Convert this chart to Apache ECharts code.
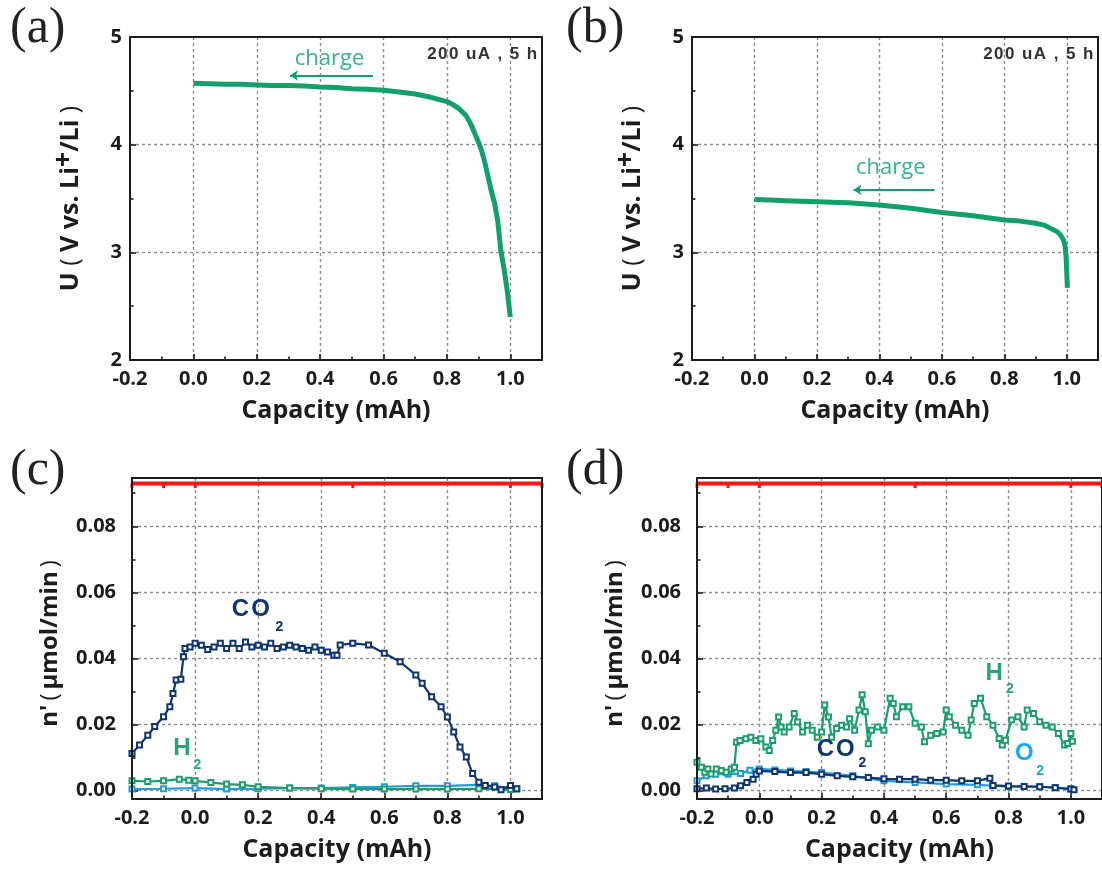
<!DOCTYPE html>
<html><head><meta charset="utf-8">
<script src="https://cdn.jsdelivr.net/npm/echarts@6/dist/echarts.min.js"></script>
<style>html,body{margin:0;padding:0;background:#fff}#c{width:1102px;height:870px}</style>
</head><body><div id="c"></div>
<script>
// ---------------- data ----------------
const capA  = [0,0.05,0.1,0.15,0.2,0.25,0.3,0.35,0.4,0.45,0.5,0.55,0.6,0.65,0.7,0.75,0.8,0.82,0.84,0.86,0.87,0.88,0.89,0.9,0.91,0.92,0.93,0.94,0.95,0.96,0.97,0.98,0.99,1.0];
const voltA = [4.57,4.565,4.56,4.56,4.555,4.55,4.55,4.545,4.535,4.53,4.52,4.515,4.505,4.49,4.47,4.44,4.40,4.37,4.33,4.27,4.22,4.16,4.09,4.02,3.94,3.83,3.70,3.57,3.46,3.30,3.02,2.85,2.65,2.40];

const capB  = [0,0.05,0.1,0.15,0.2,0.3,0.4,0.5,0.6,0.7,0.8,0.85,0.9,0.93,0.95,0.97,0.98,0.99,0.995,0.998,1.0,1.002];
const voltB = [3.49,3.485,3.48,3.475,3.47,3.46,3.44,3.41,3.37,3.34,3.30,3.29,3.27,3.25,3.22,3.19,3.16,3.11,3.05,2.95,2.80,2.67];

const capC_CO2 = [-0.2,-0.176,-0.15,-0.128,-0.1,-0.08,-0.07,-0.06,-0.045,-0.037,-0.032,-0.016,0,0.02,0.04,0.06,0.08,0.1,0.12,0.14,0.16,0.18,0.2,0.22,0.24,0.26,0.28,0.3,0.32,0.34,0.36,0.38,0.4,0.42,0.44,0.45,0.46,0.5,0.55,0.6,0.65,0.7,0.72,0.75,0.78,0.8,0.82,0.84,0.86,0.88,0.9,0.92,0.95,0.97,1.0,1.02];
const rateC_CO2 = [0.0113,0.0138,0.0168,0.0194,0.0224,0.0254,0.0294,0.0335,0.0337,0.0405,0.043,0.0435,0.0446,0.044,0.0427,0.0435,0.0446,0.043,0.0446,0.043,0.045,0.0435,0.044,0.0435,0.0446,0.043,0.0435,0.044,0.0435,0.043,0.0425,0.0435,0.0425,0.042,0.041,0.041,0.0441,0.0446,0.0441,0.0416,0.039,0.035,0.0325,0.0284,0.0254,0.0223,0.0178,0.0132,0.0102,0.0052,0.0026,0.0016,0.0011,0.0003,0.0016,0.0006];
const capC_H2  = [-0.2,-0.15,-0.1,-0.05,-0.02,0,0.05,0.1,0.15,0.2,0.3,0.4,0.5,0.6,0.7,0.8,0.9,1.0,1.02];
const rateC_H2 = [0.003,0.0028,0.003,0.0035,0.0032,0.003,0.0025,0.002,0.0018,0.0012,0.0008,0.0006,0.0005,0.0005,0.0005,0.0005,0.0006,0.0004,0.0005];
const capC_O2  = [-0.2,-0.1,0,0.1,0.2,0.3,0.4,0.5,0.6,0.7,0.8,0.9,0.95,1.0];
const rateC_O2 = [0.0005,0.0006,0.0008,0.0005,0.0006,0.0008,0.0008,0.001,0.0012,0.0015,0.0015,0.0018,0.0015,0.0008];

const capD_H2  = [-0.2,-0.186,-0.175,-0.165,-0.155,-0.138,-0.122,-0.106,-0.09,-0.08,-0.073,-0.062,-0.043,-0.027,-0.011,0.005,0.021,0.032,0.043,0.053,0.062,0.07,0.08,0.096,0.112,0.123,0.139,0.155,0.17,0.186,0.2,0.21,0.222,0.232,0.248,0.264,0.28,0.29,0.306,0.32,0.33,0.34,0.35,0.36,0.38,0.40,0.42,0.43,0.44,0.46,0.48,0.5,0.52,0.53,0.55,0.57,0.59,0.6,0.61,0.63,0.65,0.67,0.68,0.69,0.71,0.73,0.75,0.77,0.78,0.79,0.81,0.83,0.85,0.86,0.88,0.9,0.92,0.94,0.96,0.98,0.99,1.0,1.005];
const rateD_H2 = [0.0086,0.0071,0.0056,0.0066,0.0051,0.0066,0.0061,0.0056,0.0066,0.0071,0.0147,0.0152,0.0157,0.0162,0.0152,0.0157,0.0132,0.0122,0.0152,0.0183,0.0223,0.0193,0.0178,0.0193,0.0234,0.0208,0.0178,0.0198,0.0183,0.0162,0.0178,0.0259,0.0223,0.0162,0.0188,0.0198,0.0193,0.0218,0.0183,0.0244,0.029,0.0239,0.0142,0.0183,0.0193,0.0183,0.028,0.0264,0.0224,0.0254,0.0254,0.0204,0.0193,0.0148,0.0168,0.0173,0.0178,0.0244,0.0224,0.0198,0.0183,0.0168,0.0214,0.0264,0.028,0.0224,0.0198,0.0158,0.0138,0.0153,0.0214,0.0224,0.0193,0.0244,0.0234,0.0209,0.0198,0.0193,0.0173,0.0138,0.0143,0.0173,0.015];
const capD_CO2  = [-0.2,-0.17,-0.14,-0.11,-0.08,-0.06,-0.04,-0.02,-0.01,0,0.05,0.1,0.15,0.2,0.25,0.3,0.35,0.4,0.45,0.5,0.55,0.6,0.65,0.7,0.74,0.75,0.8,0.85,0.9,0.95,1.0,1.01];
const rateD_CO2 = [0.0006,0.0008,0.0005,0.0006,0.0008,0.0015,0.0025,0.0035,0.005,0.006,0.0058,0.0055,0.0055,0.005,0.0045,0.0042,0.004,0.0036,0.0035,0.0035,0.0032,0.0032,0.003,0.003,0.0038,0.0016,0.0014,0.0013,0.0012,0.0009,0.0005,0.0003];
const capD_O2  = [-0.2,-0.17,-0.14,-0.1,-0.06,-0.03,0,0.05,0.1,0.15,0.2,0.3,0.4,0.5,0.6,0.7,0.75,0.8,0.9,0.95,1.0];
const rateD_O2 = [0.003,0.0045,0.005,0.005,0.0052,0.0062,0.0066,0.0063,0.006,0.0058,0.0055,0.0045,0.003,0.0025,0.002,0.0018,0.0015,0.0012,0.0012,0.001,0.0005];

const capRef  = [-0.2,-0.1,0,0.5,1.0,1.1];
const rateRef = [0.0929,0.0929,0.0929,0.0929,0.0929,0.0929];

// tick values
const X_LABELS = [-0.2,0,0.2,0.4,0.6,0.8,1.0];
const X_MAJOR  = [0,0.2,0.4,0.6,0.8,1.0];
const X_MINOR  = [-0.1,0.1,0.3,0.5,0.7,0.9];
const V_LABELS = [2,3,4,5];
const V_MAJOR  = [3,4];
const V_MINOR  = [2.5,3.5,4.5];
const N_LABELS = [0,0.02,0.04,0.06,0.08];
const N_MAJOR  = [0,0.02,0.04,0.06,0.08];
const N_MINOR  = [0.01,0.03,0.05,0.07,0.09];

// ---------------- styling ----------------
const FONT = '"Open Sans","Liberation Sans",sans-serif';
const ARIAL = '"Liberation Sans",Arial,sans-serif';
const INK = '#1c1c1c';
const GREEN_V = '#12a06a', GREEN = '#1c9e6c', NAVY = '#0f3470', LBLUE = '#1f9cda', RED = '#ff1414';
const GRIDS = [
  {left:130, top:37,  width:412, height:323},
  {left:692, top:37,  width:406, height:323},
  {left:132, top:478, width:410, height:321},
  {left:697, top:478, width:412, height:321}
];
const zip = (xs, ys) => xs.slice(0, Math.min(xs.length, ys.length)).map((x, i) => [x, ys[i]]);

const xAxis = [], yAxis = [];
GRIDS.forEach((g, gi) => {
  const volt = gi < 2;
  xAxis.push({ gridIndex:gi, type:'value', position:'bottom', min:-0.2, max:1.1, z:2,
    axisLine:{show:false, onZero:false},
    axisTick:{inside:true, length:6, customValues:X_MAJOR, lineStyle:{color:INK, width:1.6}},
    axisLabel:{customValues:X_LABELS, formatter:v => v.toFixed(1), color:INK, fontFamily:FONT, fontWeight:'bold', fontSize:20, margin:9},
    splitLine:{show:true, lineStyle:{color:'#8c8c8c', width:1.4, type:[3,3]}},
    name:'Capacity (mAh)', nameLocation:'middle', nameGap:38,
    nameTextStyle:{color:INK, fontFamily:FONT, fontWeight:'bold', fontSize:25}
  });
  xAxis.push({ gridIndex:gi, type:'value', position:'bottom', min:-0.2, max:1.1, z:6,
    axisLine:{show:true, onZero:false, lineStyle:{color:INK, width:2}},
    axisTick:{inside:true, length:3.5, customValues:X_MINOR, lineStyle:{color:INK, width:1.6}},
    axisLabel:{show:false}, splitLine:{show:false}
  });
  xAxis.push({ gridIndex:gi, type:'value', position:'top', min:-0.2, max:1.1, z:6,
    axisLine:{show:true, onZero:false, lineStyle:{color:INK, width:2}},
    axisTick:{show:false}, axisLabel:{show:false}, splitLine:{show:false}
  });
  const ymin = volt ? 2 : -0.0025, ymax = volt ? 5 : 0.0946;
  const yMain = { gridIndex:gi, type:'value', position:'left', min:ymin, max:ymax, z:2,
    axisLine:{show:false, onZero:false},
    axisTick:{inside:true, length:6, customValues: volt ? V_MAJOR : N_MAJOR, lineStyle:{color:INK, width:1.6}},
    axisLabel:{customValues: volt ? V_LABELS : N_LABELS, formatter: v => volt ? String(Math.round(v)) : v.toFixed(2),
      color:INK, fontFamily:FONT, fontWeight:'bold', fontSize:20, margin: volt ? 8 : 16},
    splitLine:{show:true, lineStyle:{color:'#8c8c8c', width:1.4, type:[3,3]}},
    nameLocation:'middle'
  };
  if (volt) {
    yMain.name = '{t|U }{p|( }{t|V vs. Li}{s|+}{t|/Li}{p| )}';
    yMain.nameGap = 40;
    yMain.nameTextStyle = { rich: {
      t:{color:INK, fontFamily:FONT, fontWeight:'bold', fontSize:25},
      p:{color:INK, fontFamily:FONT, fontWeight:'normal', fontSize:25},
      s:{color:INK, fontFamily:FONT, fontWeight:'bold', fontSize:27, padding:[0,0,12,0]}
    }};
  } else {
    yMain.name = "{t|n'}{p|\u2009(\u2009}{t|μmol/min}{p|\u2009)}";
    yMain.nameGap = 70;
    yMain.nameTextStyle = { padding:[0,10,0,0], rich: {
      t:{color:INK, fontFamily:FONT, fontWeight:'bold', fontSize:24},
      p:{color:INK, fontFamily:FONT, fontWeight:'normal', fontSize:24}
    }};
  }
  yAxis.push(yMain);
  yAxis.push({ gridIndex:gi, type:'value', position:'left', min:ymin, max:ymax, z:6,
    axisLine:{show:true, onZero:false, lineStyle:{color:INK, width:2}},
    axisTick:{inside:true, length:3.5, customValues: volt ? V_MINOR : N_MINOR, lineStyle:{color:INK, width:1.6}},
    axisLabel:{show:false}, splitLine:{show:false}
  });
  yAxis.push({ gridIndex:gi, type:'value', position:'right', min:ymin, max:ymax, z:6,
    axisLine:{show:true, onZero:false, lineStyle:{color:INK, width:2}},
    axisTick:{show:false}, axisLabel:{show:false}, splitLine:{show:false}
  });
});

const ax = gi => ({xAxisIndex: gi*3, yAxisIndex: gi*3});

// annotation anchors (data coordinates)
const ARROW_A = [[0.567, 4.643], [0.305, 4.643]];
const ARROW_B = [[0.577, 3.58], [0.317, 3.58]];

function voltSeries(gi, xs, ys, arrow) {
  return Object.assign({ type:'line', data:zip(xs, ys), showSymbol:false, symbol:'none',
    lineStyle:{color:GREEN_V, width:5}, itemStyle:{color:GREEN_V}, z:3,
    markLine:{ silent:true, symbol:['none','arrow'], symbolSize:8, label:{show:false},
      lineStyle:{color:GREEN_V, width:2, type:'solid'}, itemStyle:{color:GREEN_V},
      data:[[{coord:arrow[0]},{coord:arrow[1]}]] }
  }, ax(gi));
}
function gasSeries(gi, xs, ys, color, z) {
  return Object.assign({ type:'line', data:zip(xs, ys), symbol:'emptyRect', symbolSize:5,
    lineStyle:{color, width:2.2}, itemStyle:{color, borderColor:color, borderWidth:1.6}, z }, ax(gi));
}
function refSeries(gi) {
  return Object.assign({ type:'line', data:zip(capRef, rateRef), symbol:'rect', symbolSize:[3,5], symbolOffset:[0,2],
    lineStyle:{color:RED, width:4}, itemStyle:{color:RED}, z:4 }, ax(gi));
}

const series = [
  voltSeries(0, capA, voltA, ARROW_A),
  voltSeries(1, capB, voltB, ARROW_B),
  refSeries(2),
  gasSeries(2, capC_O2, rateC_O2, LBLUE, 3),
  gasSeries(2, capC_H2, rateC_H2, GREEN, 4),
  gasSeries(2, capC_CO2, rateC_CO2, NAVY, 5),
  refSeries(3),
  gasSeries(3, capD_O2, rateD_O2, LBLUE, 3),
  gasSeries(3, capD_H2, rateD_H2, GREEN, 4),
  gasSeries(3, capD_CO2, rateD_CO2, NAVY, 5)
];

const chart = echarts.init(document.getElementById('c'), null, {renderer:'canvas'});
chart.setOption({ animation:false, backgroundColor:'#fff', grid:GRIDS.map(g => Object.assign({containLabel:false}, g)),
  xAxis, yAxis, series });

// text annotations placed in data coordinates
const NOTE_SPACED = ['2','0','0',' ','u','A',' ',',',' ','5',' ','h'].join('\u200A');
const notes = [
  // [grid, x, y, text, color, font, align]
  [0, 0.32, 4.795, 'charge', '#34b487', '22px ' + FONT, 'left'],
  [0, 1.085, 4.84, NOTE_SPACED, '#333', 'bold 17px ' + ARIAL, 'right'],
  [1, 0.325, 3.79, 'charge', '#34b487', '22px ' + FONT, 'left'],
  [1, 1.085, 4.84, NOTE_SPACED, '#333', 'bold 17px ' + ARIAL, 'right'],
  [2, 0.1165, 0.0548, 'C\u200AO', NAVY, 'bold 24px ' + ARIAL, 'left'],
  [2, 0.255, 0.0496, '2', NAVY, 'bold 14px ' + ARIAL, 'left'],
  [2, -0.069, 0.0129, 'H', '#27a673', 'bold 24px ' + ARIAL, 'left'],
  [2, -0.005, 0.0078, '2', '#27a673', 'bold 14px ' + ARIAL, 'left'],
  [3, 0.726, 0.0354, 'H', '#27a673', 'bold 24px ' + ARIAL, 'left'],
  [3, 0.792, 0.0307, '2', '#27a673', 'bold 14px ' + ARIAL, 'left'],
  [3, 0.184, 0.0124, 'C\u200AO', NAVY, 'bold 24px ' + ARIAL, 'left'],
  [3, 0.318, 0.0082, '2', NAVY, 'bold 14px ' + ARIAL, 'left'],
  [3, 0.821, 0.0114, 'O', '#1aa8ee', 'bold 24px ' + ARIAL, 'left'],
  [3, 0.889, 0.0059, '2', '#1aa8ee', 'bold 14px ' + ARIAL, 'left']
];
const graphic = notes.map(n => {
  const p = chart.convertToPixel(ax(n[0]), [n[1], n[2]]);
  return { type:'text', x:p[0], y:p[1], z:20, silent:true,
    style:{ text:n[3], fill:n[4], font:n[5], align:n[6], verticalAlign:'middle' } };
});
const PANEL_LABELS = [['(a)', 10, 4], ['(b)', 566, 4], ['(c)', 10, 446], ['(d)', 566, 446]];
PANEL_LABELS.forEach(l => graphic.push({ type:'text', x:l[1], y:l[2], z:20, silent:true,
  style:{ text:l[0], fill:'#222', font:'50px "Liberation Serif","DejaVu Serif",serif', align:'left', verticalAlign:'top' } }));
chart.setOption({ graphic });
</script>
</body></html>
